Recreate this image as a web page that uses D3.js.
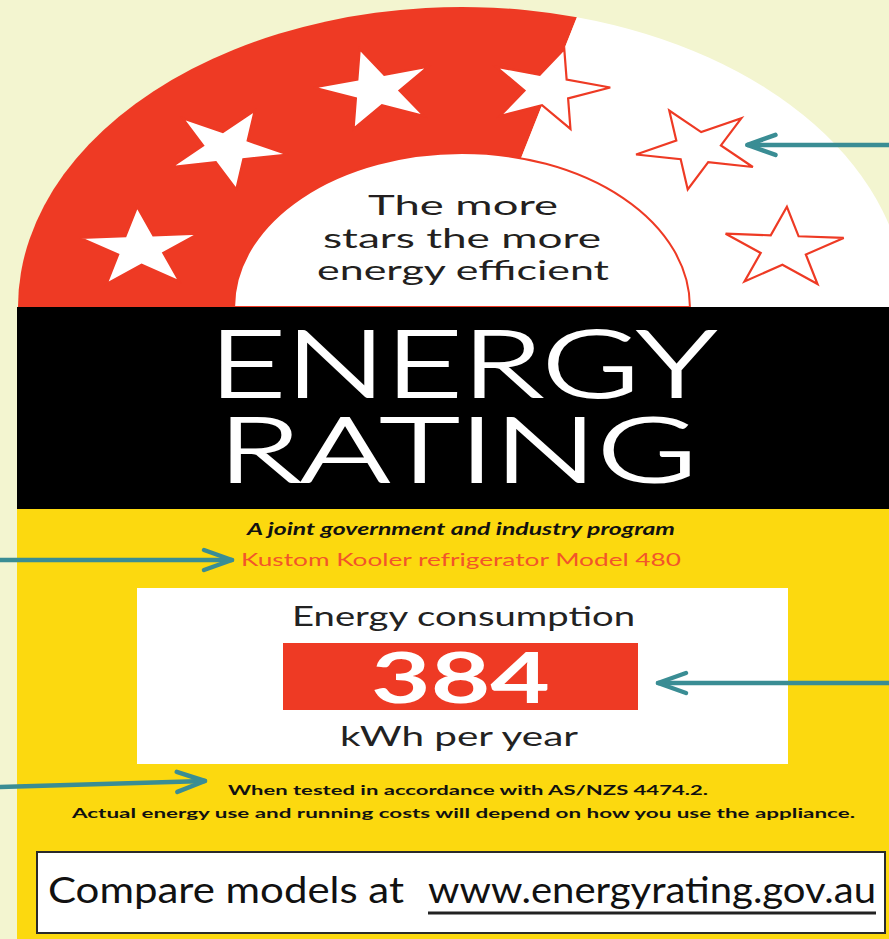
<!DOCTYPE html>
<html>
<head>
<meta charset="utf-8">
<script src="https://cdn.jsdelivr.net/npm/d3@7"></script>
<style>
  html, body { margin: 0; padding: 0; background: #f3f5d0; }
  svg { display: block; }
</style>
</head>
<body>
<div id="chart"></div>
<script>
// label content
const starSlots = [1, 2, 3, 4, 5, 6];
const rating = 3.5;
const archLines = ["The more", "stars the more", "energy efficient"];
const titleLines = ["ENERGY", "RATING"];
const programLine = "A joint government and industry program";
const modelLine = "Kustom Kooler refrigerator Model 480";
const consumption = 384;
const consumptionLabels = ["Energy consumption", "kWh per year"];
const footnotes = [
  "When tested in accordance with AS/NZS 4474.2.",
  "Actual energy use and running costs will depend on how you use the appliance."
];
const compareParts = ["Compare models at", "www.energyrating.gov.au"];

const width = 889, height = 939;
const colors = {
  bg: "#f3f5d0", red: "#ee3a24", yellow: "#fcd90f",
  teal: "#3a8d94", ink: "#231f20", orange: "#f2552a"
};
const font = "Lato, 'Open Sans', sans-serif";

const svg = d3.select("#chart").append("svg")
  .attr("width", width)
  .attr("height", height);

svg.append("rect").attr("width", width).attr("height", height).attr("fill", colors.bg);

const labelX = 17;
const bandTop = 307, bandBottom = 509;

// the whole picture is stretched sideways, so the arch is drawn round and then scaled
const arch = { cx: 462, cy: bandTop, sx: 1.48, outer: 300, inner: 154, ring: 225, star: 42 };
const angle = d3.scaleLinear().domain([1, 6]).range([-75, 75]);   // degrees from vertical
const rad = d => d * Math.PI / 180;
const split = rad(angle(rating + 0.5));

svg.append("clipPath").attr("id", "labelClip")
  .append("rect").attr("x", labelX).attr("y", 0).attr("width", width).attr("height", height);

const archG = svg.append("g").attr("clip-path", "url(#labelClip)")
  .append("g")
  .attr("transform", `translate(${arch.cx},${arch.cy}) scale(${arch.sx},1)`);

const sector = d3.arc().innerRadius(0).outerRadius(arch.outer);
archG.append("path")
  .attr("d", sector({ startAngle: -Math.PI / 2, endAngle: split }))
  .attr("fill", colors.red);
archG.append("path")
  .attr("d", sector({ startAngle: split, endAngle: Math.PI / 2 }))
  .attr("fill", "#fff");

archG.append("path")
  .attr("d", d3.arc().innerRadius(0).outerRadius(arch.inner)({ startAngle: -Math.PI / 2, endAngle: Math.PI / 2 }))
  .attr("fill", "#fff")
  .attr("stroke", colors.red)
  .attr("stroke-width", 2)
  .attr("vector-effect", "non-scaling-stroke");

const starPath = d3.symbol().type(d3.symbolStar).size(arch.star * arch.star / 0.8908)();
archG.selectAll(".star")
  .data(starSlots)
  .join("path")
  .attr("class", "star")
  .attr("d", starPath)
  .attr("transform", d => `rotate(${angle(d)}) translate(0,${-arch.ring})`)
  .attr("fill", "#fff")
  .attr("stroke", colors.red)
  .attr("stroke-width", 2.2)
  .attr("stroke-linejoin", "miter")
  .attr("vector-effect", "non-scaling-stroke");

const starX = d => arch.cx + arch.sx * arch.ring * Math.sin(rad(angle(d)));
const starY = d => arch.cy - arch.ring * Math.cos(rad(angle(d)));

// bands
svg.append("rect")
  .attr("x", labelX).attr("y", bandTop)
  .attr("width", width - labelX).attr("height", bandBottom - bandTop)
  .attr("fill", "#000");
svg.append("rect")
  .attr("x", labelX).attr("y", bandBottom)
  .attr("width", width - labelX).attr("height", height - bandBottom)
  .attr("fill", colors.yellow);

// text helper: left edge, right edge, baseline
function label(str, x0, x1, y, size, opts = {}) {
  return svg.append("text")
    .attr("x", x0).attr("y", y)
    .attr("textLength", x1 - x0)
    .attr("lengthAdjust", "spacingAndGlyphs")
    .attr("font-family", font)
    .attr("font-size", size)
    .attr("font-weight", opts.weight || 400)
    .attr("font-style", opts.style || "normal")
    .attr("fill", opts.fill || colors.ink)
    .text(str);
}

// arch text
const archSpans = [[368, 558], [323, 601], [317, 609]];
archLines.forEach((t, i) => label(t, archSpans[i][0], archSpans[i][1], 215 + i * 32.5, 26));

// title
label(titleLines[0], 209, 716, 397, 93, { weight: 300, fill: "#fff" })
  .attr("stroke", "#fff").attr("stroke-width", 2.2);
label(titleLines[1], 218, 697, 482, 91, { weight: 300, fill: "#fff" })
  .attr("stroke", "#fff").attr("stroke-width", 2.2);

label(programLine, 247, 675, 535, 17, { weight: 700, style: "italic", fill: "#111" });
const model = { x0: 241, x1: 681, y: 566 };
label(modelLine, model.x0, model.x1, model.y, 17, { fill: colors.orange });

// consumption box
const box = { x0: 137, x1: 788, y0: 588, y1: 764 };
svg.append("rect")
  .attr("x", box.x0).attr("y", box.y0)
  .attr("width", box.x1 - box.x0).attr("height", box.y1 - box.y0)
  .attr("fill", "#fff");
label(consumptionLabels[0], 292, 635, 626, 27, { fill: "#222" });
const redBox = { x0: 283, x1: 638, y0: 643, y1: 710 };
svg.append("rect")
  .attr("x", redBox.x0).attr("y", redBox.y0)
  .attr("width", redBox.x1 - redBox.x0).attr("height", redBox.y1 - redBox.y0)
  .attr("fill", colors.red);
label(String(consumption), 371, 550, 703, 71, { weight: 700, fill: "#fff" });
label(consumptionLabels[1], 340, 578, 746, 27, { fill: "#222" });

// footnotes
const foot = [[228, 708, 795], [72, 855, 818]];
footnotes.forEach((t, i) => label(t, foot[i][0], foot[i][1], foot[i][2], 13.5, { weight: 700, fill: "#111" }));

// compare box
svg.append("rect")
  .attr("x", 37).attr("y", 852)
  .attr("width", 848).attr("height", 81)
  .attr("fill", "#fff")
  .attr("stroke", "#2a2a2a")
  .attr("stroke-width", 2);
label(compareParts[0], 48, 404, 903, 36, { fill: "#111" });
label(compareParts[1], 428, 876, 903, 36, { fill: "#111" });
svg.append("line")
  .attr("x1", 428).attr("x2", 876)
  .attr("y1", 913).attr("y2", 913)
  .attr("stroke", "#222").attr("stroke-width", 3);

// arrows pointing at parts of the label
const arrows = [
  { tail: [width, starY(5) - 3], tip: [starX(5) + 50, starY(5) - 3] },
  { tail: [0, model.y - 6], tip: [model.x0 - 9, model.y - 6] },
  { tail: [width, redBox.y1 - 27], tip: [redBox.x1 + 20, redBox.y1 - 27] },
  { tail: [0, 787], tip: [foot[0][0] - 23, 781] }
];
const arrowG = svg.append("g")
  .attr("stroke", colors.teal)
  .attr("stroke-width", 4.5)
  .attr("fill", "none")
  .attr("stroke-linecap", "round")
  .attr("stroke-linejoin", "round");
arrows.forEach(a => {
  const dx = a.tail[0] - a.tip[0], dy = a.tail[1] - a.tip[1];
  const len = Math.hypot(dx, dy), ux = dx / len, uy = dy / len;
  const back = 28, side = 10;
  arrowG.append("path").attr("d", d3.line()([a.tail, a.tip]));
  arrowG.append("path").attr("d", d3.line()([
    [a.tip[0] + ux * back - uy * side, a.tip[1] + uy * back + ux * side],
    a.tip,
    [a.tip[0] + ux * back + uy * side, a.tip[1] + uy * back - ux * side]
  ]));
});
</script>
</body>
</html>
